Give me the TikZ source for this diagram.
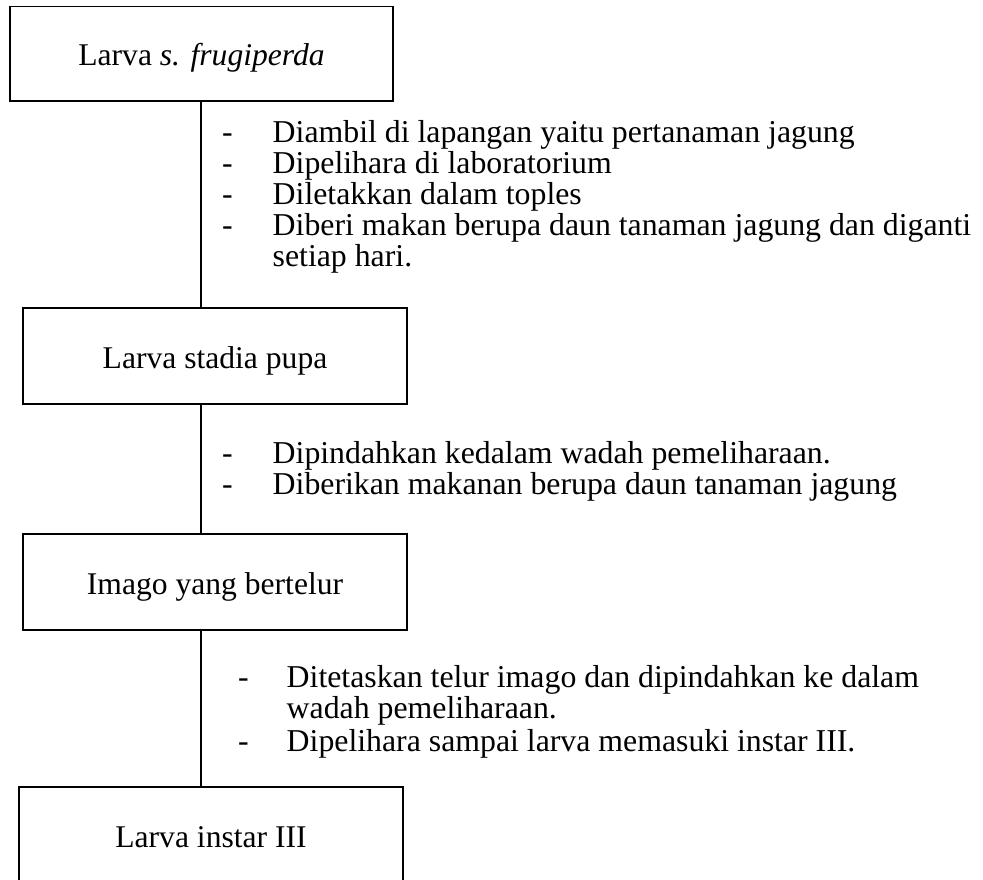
\documentclass[tikz,border=0pt]{standalone}
\usepackage{fontspec}
\setmainfont{Liberation Serif}
\tikzset{
  stagebox/.style={draw=black, line width=1.6pt, inner sep=0pt, minimum width=384pt, minimum height=96pt,
    text height=24pt, text depth=0pt, font=\fontsize{31.6}{31}\selectfont},
  itemline/.style={anchor=base west, inner sep=0pt, font=\fontsize{31.8}{31}\selectfont},
  link/.style={draw=black, line width=1.6pt}
}
\begin{document}
\begin{tikzpicture}[x=1pt,y=-1pt]
\useasboundingbox (0,0) rectangle (983,879);
\clip (0,0) rectangle (983,879);
% boxes
\node[stagebox, minimum width=383pt, minimum height=94.5pt] (b1) at (201.5,53.75) {Larva \textit{s. frugiperda}};
\node[stagebox] (b2) at (215,356) {Larva stadia pupa};
\node[stagebox] (b3) at (215,582) {Imago yang bertelur};
\node[stagebox] (b4) at (211,835) {Larva instar III};
% connectors
\coordinate (cx) at (201,0);
\draw[link] (b1.south -| cx) -- (b2.north -| cx);
\draw[link] (b2.south -| cx) -- (b3.north -| cx);
\draw[link] (b3.south -| cx) -- (b4.north -| cx);
% block 1
\node[itemline] (d11) at (222,142) {-};
\node[itemline] (t11) at (272.5,142) {Diambil di lapangan yaitu pertanaman jagung};
\node[itemline] (d12) at (222,173) {-};
\node[itemline] (t12) at (272.5,173) {Dipelihara di laboratorium};
\node[itemline] (d13) at (222,204) {-};
\node[itemline] (t13) at (272.5,204) {Diletakkan dalam toples};
\node[itemline] (d14) at (222,235) {-};
\node[itemline] (t14) at (272.5,235) {Diberi makan berupa daun tanaman jagung dan diganti};
\node[itemline] (t15) at (272.5,266) {setiap hari.};
% block 2
\node[itemline] (d21) at (222,463) {-};
\node[itemline] (t21) at (272.5,463) {Dipindahkan kedalam wadah pemeliharaan.};
\node[itemline] (d22) at (222,494) {-};
\node[itemline] (t22) at (272.5,494) {Diberikan makanan berupa daun tanaman jagung};
% block 3
\node[itemline] (d31) at (238,687) {-};
\node[itemline] (t31) at (286.5,687) {Ditetaskan telur imago dan dipindahkan ke dalam};
\node[itemline] (t32) at (286.5,718) {wadah pemeliharaan.};
\node[itemline] (d33) at (238,751) {-};
\node[itemline] (t33) at (286.5,751) {Dipelihara sampai larva memasuki instar III.};
\end{tikzpicture}
\end{document}
